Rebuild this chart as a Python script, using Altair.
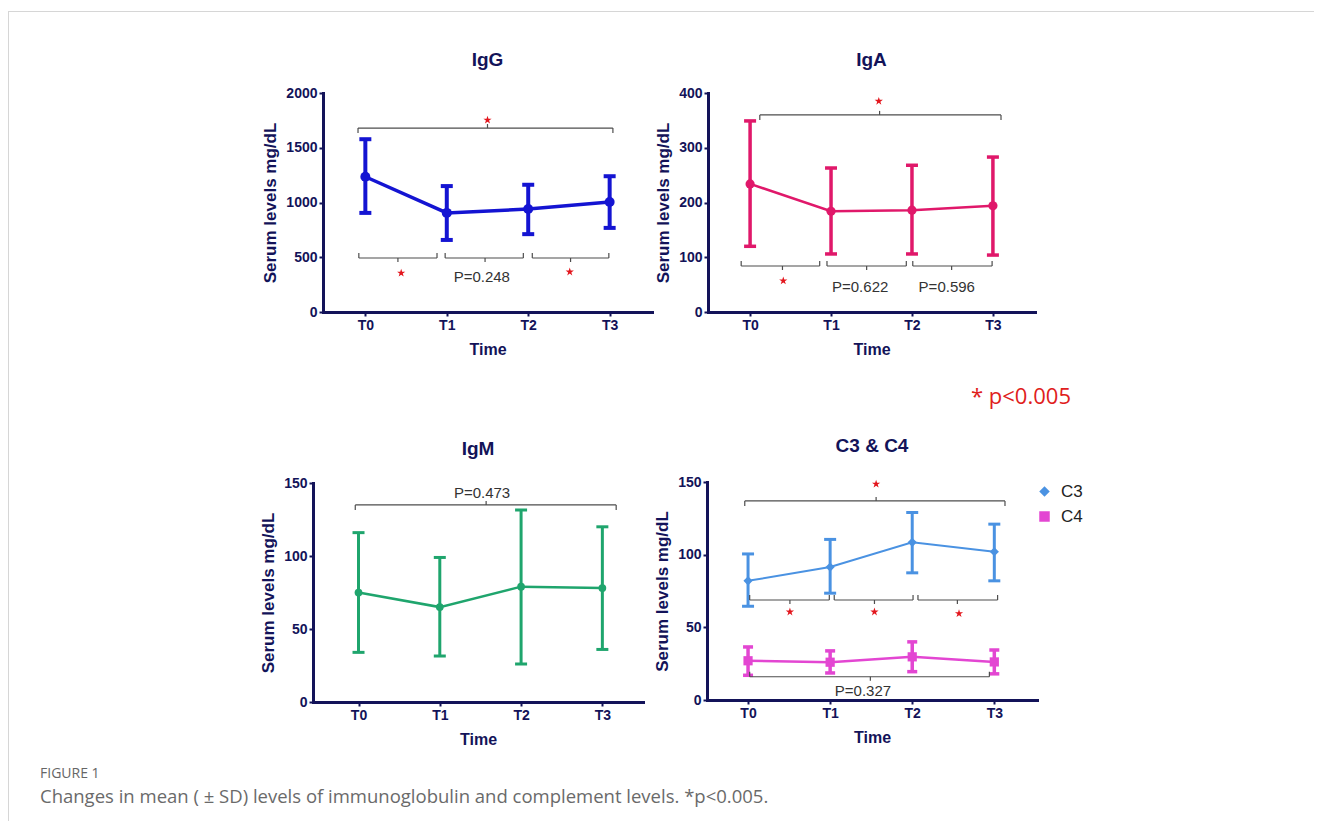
import altair as alt
import pandas as pd

# ---------------- data ----------------
time_idx = [0, 1, 2, 3]
time_labels = ["T0", "T1", "T2", "T3"]

igg_mean = [1235, 905, 940, 1004]
igg_upper = [1578, 1150, 1162, 1240]
igg_lower = [905, 658, 711, 768]

iga_mean = [234, 184, 186, 194]
iga_upper = [349, 263, 268, 283]
iga_lower = [120, 106, 106, 104]

igm_mean = [75, 65, 79, 78]
igm_upper = [116, 99, 131.5, 120]
igm_lower = [34, 31.5, 26, 36]

c3_mean = [82, 91.5, 108.5, 102]
c3_upper = [100.5, 110.5, 129, 121]
c3_lower = [64.5, 73.5, 87.5, 82]

c4_mean = [27, 26, 29.7, 26.2]
c4_upper = [36.5, 33.8, 40, 34.4]
c4_lower = [17, 18.6, 19.5, 18]

# significance brackets (x in time-index units, y in mg/dL)
igg_top = dict(x1=[-0.09], x2=[3.04], y=[1680], xm=[1.5])
igg_bot = dict(x1=[-0.08, 0.98, 2.05], x2=[0.88, 1.94, 2.99], y=[493, 493, 493], xm=[0.40, 1.47, 2.52])
igg_star = dict(x=[1.5, 0.44, 2.51], y=[1753, 356, 366])
igg_ptxt = dict(x=[1.43], y=[318], label=["P=0.248"])

iga_top = dict(x1=[0.12], x2=[3.10], y=[360], xm=[1.6])
iga_bot = dict(x1=[-0.11, 0.95, 2.01], x2=[0.86, 1.93, 2.99], y=[84, 84, 84], xm=[0.40, 1.44, 2.49])
iga_star = dict(x=[1.59, 0.41], y=[385, 57])
iga_ptxt = dict(x=[1.36, 2.43], y=[46, 46], label=["P=0.622", "P=0.596"])

igm_top = dict(x1=[-0.04], x2=[3.17], y=[135], xm=[1.57])
igm_ptxt = dict(x=[1.52], y=[143], label=["P=0.473"])

c34_top = dict(x1=[-0.04], x2=[3.13], y=[137], xm=[1.56])
c34_bot = dict(x1=[0.02, 1.05, 2.07, 0.02], x2=[0.99, 2.01, 3.04, 2.94], y=[68.8, 68.8, 68.8, 16], xm=[0.51, 1.54, 2.55, 1.49])
c34_star = dict(x=[1.56, 0.51, 1.54, 2.57], y=[148.6, 60.6, 60.6, 59.5])
c34_ptxt = dict(x=[1.40], y=[6.2], label=["P=0.327"])

panel_titles = {"IgG": "IgG", "IgA": "IgA", "IgM": "IgM", "C3C4": "C3 & C4"}
series_names = ["C3", "C4"]

# ---------------- layout / style ----------------
W, H = 1306, 813
NAVY = "#131359"
BRK = "#4d4d4d"
RED = "#e3161d"
FONT = "Liberation Sans"
STAR = ("M0,-1L0.2245,-0.309L0.951,-0.309L0.363,0.118L0.588,0.809L0,0.382"
        "L-0.588,0.809L-0.363,0.118L-0.951,-0.309L-0.2245,-0.309Z")

LAYOUT = {
    "IgG": dict(xr=[315, 644], xd=[-0.52, 3.52], yr=[304, 85], yd=[0, 2000],
                yt=[0, 500, 1000, 1500, 2000], title_y=52),
    "IgA": dict(xr=[700, 1027], xd=[-0.52, 3.52], yr=[304, 85], yd=[0, 400],
                yt=[0, 100, 200, 300, 400], title_y=52),
    "IgM": dict(xr=[305, 635], xd=[-0.56, 3.5], yr=[694, 475], yd=[0, 150],
                yt=[0, 50, 100, 150], title_y=441),
    "C3C4": dict(xr=[699, 1029], xd=[-0.5, 3.52], yr=[692, 474], yd=[0, 150],
                 yt=[0, 50, 100, 150], title_y=438),
}


def xs(p):
    L = LAYOUT[p]
    return alt.Scale(domain=L["xd"], range=L["xr"], nice=False, zero=False)


def ys(p):
    L = LAYOUT[p]
    return alt.Scale(domain=L["yd"], range=L["yr"], nice=False, zero=False)


def x_axis(p):
    L = LAYOUT[p]
    return alt.Axis(orient="bottom", offset=L["yr"][0] - H, values=time_idx,
                    labelExpr="'T' + datum.value", grid=False,
                    domainColor=NAVY, domainWidth=3, domainCap="square",
                    tickColor=NAVY, tickWidth=2, tickSize=4,
                    labelColor=NAVY, labelFont=FONT, labelFontSize=14,
                    labelFontWeight="bold", labelPadding=2, labelFlush=False,
                    labelOverlap=False, title="Time", titleFont=FONT,
                    titleFontSize=16, titleFontWeight="bold", titleColor=NAVY,
                    titlePadding=9)


def y_axis(p):
    L = LAYOUT[p]
    return alt.Axis(orient="left", offset=-L["xr"][0], values=L["yt"], grid=False,
                    format="d",
                    domainColor=NAVY, domainWidth=3, domainCap="square",
                    tickColor=NAVY, tickWidth=2, tickSize=4,
                    labelColor=NAVY, labelFont=FONT, labelFontSize=14,
                    labelFontWeight="bold", labelPadding=2, labelFlush=False,
                    labelOverlap=False, title="Serum levels mg/dL", titleFont=FONT,
                    titleFontSize=17, titleFontWeight="bold", titleColor=NAVY,
                    titlePadding=6)


def X(p, field, axis=None):
    return alt.X(f"{field}:Q", scale=xs(p), axis=axis)


def Y(p, field, axis=None):
    return alt.Y(f"{field}:Q", scale=ys(p), axis=axis)


def series_df(mean, lo, hi):
    return pd.DataFrame({"t": time_idx, "label": time_labels, "mean": mean, "lo": lo, "hi": hi})


def series_layers(p, df, color, shape, size, lw, bw, cap, axes=False, points=True):
    base = alt.Chart(df)
    out = [
        base.mark_rule(color=color, strokeWidth=bw).encode(x=X(p, "t"), y=Y(p, "lo"), y2="hi"),
        base.transform_fold(["lo", "hi"], as_=["k", "v"]).mark_tick(
            color=color, orient="horizontal", size=cap, thickness=bw, opacity=1
        ).encode(x=X(p, "t"), y=Y(p, "v")),
        base.mark_line(color=color, strokeWidth=lw).encode(
            x=X(p, "t", x_axis(p) if axes else None),
            y=Y(p, "mean", y_axis(p) if axes else None)),
    ]
    if points:
        out.append(base.mark_point(filled=True, color=color, shape=shape, size=size,
                                   opacity=1).encode(x=X(p, "t"), y=Y(p, "mean")))
    return out


def bracket_layers(p, br, up):
    df = pd.DataFrame(br)
    base = alt.Chart(df)
    hook = 5 if up else -5
    mid = -4 if up else 4
    return [
        base.mark_rule(color=BRK, strokeWidth=1.2).encode(x=X(p, "x1"), x2="x2", y=Y(p, "y")),
        base.transform_fold(["x1", "x2"], as_=["k", "xe"]).mark_rule(
            color=BRK, strokeWidth=1.2, y2Offset=hook
        ).encode(x=X(p, "xe"), y=Y(p, "y"), y2="y"),
        base.mark_rule(color=BRK, strokeWidth=1.2, y2Offset=mid).encode(
            x=X(p, "xm"), y=Y(p, "y"), y2="y"),
    ]


def star_layer(p, st):
    return alt.Chart(pd.DataFrame(st)).mark_point(
        shape=STAR, filled=True, color=RED, size=75, opacity=1
    ).encode(x=X(p, "x"), y=Y(p, "y"))


def ptxt_layer(p, pt):
    return alt.Chart(pd.DataFrame(pt)).mark_text(
        font=FONT, fontSize=15, color="#333333", baseline="middle", align="center"
    ).encode(x=X(p, "x"), y=Y(p, "y"), text="label:N")


def title_layer(p):
    L = LAYOUT[p]
    df = pd.DataFrame({"x": [sum(L["xd"]) / 2], "label": [panel_titles[p]]})
    return alt.Chart(df).mark_text(
        font=FONT, fontSize=19, fontWeight="bold", color=NAVY, baseline="middle", align="center"
    ).encode(x=X(p, "x"), y=alt.value(L["title_y"]), text="label:N")


layers = []

# IgG
layers += series_layers("IgG", series_df(igg_mean, igg_lower, igg_upper), "#1414d2", "circle", 100, 3.5, 4, 12, axes=True)
layers += bracket_layers("IgG", igg_top, True) + bracket_layers("IgG", igg_bot, False)
layers += [star_layer("IgG", igg_star), ptxt_layer("IgG", igg_ptxt), title_layer("IgG")]

# IgA
layers += series_layers("IgA", series_df(iga_mean, iga_lower, iga_upper), "#e0186a", "circle", 85, 2.5, 3.5, 12, axes=True)
layers += bracket_layers("IgA", iga_top, True) + bracket_layers("IgA", iga_bot, False)
layers += [star_layer("IgA", iga_star), ptxt_layer("IgA", iga_ptxt), title_layer("IgA")]

# IgM
layers += series_layers("IgM", series_df(igm_mean, igm_lower, igm_upper), "#1fa56d", "circle", 60, 2.5, 3, 12, axes=True)
layers += bracket_layers("IgM", igm_top, True)
layers += [ptxt_layer("IgM", igm_ptxt), title_layer("IgM")]

# C3 & C4
C3_COL, C4_COL = "#4a92e2", "#e346d2"
layers += series_layers("C3C4", series_df(c3_mean, c3_lower, c3_upper), C3_COL, "circle", 60, 2, 3, 12, axes=True, points=False)
layers += series_layers("C3C4", series_df(c4_mean, c4_lower, c4_upper), C4_COL, "square", 70, 2.5, 3.5, 10, points=False)
pts34 = pd.DataFrame({
    "t": time_idx * 2,
    "mean": c3_mean + c4_mean,
    "series": [series_names[0]] * 4 + [series_names[1]] * 4,
})
leg = alt.Legend(orient="none", legendX=1028, legendY=475, title=None,
                 labelFont=FONT, labelFontSize=17, labelColor="#222222",
                 symbolSize=110, rowPadding=7, labelOffset=8, symbolStrokeWidth=0)
layers.append(alt.Chart(pts34).mark_point(filled=True, size=85, opacity=1).encode(
    x=X("C3C4", "t"), y=Y("C3C4", "mean"),
    color=alt.Color("series:N", scale=alt.Scale(domain=series_names, range=[C3_COL, C4_COL]), legend=leg),
    shape=alt.Shape("series:N", scale=alt.Scale(domain=series_names, range=["diamond", "square"]), legend=leg),
))
layers += bracket_layers("C3C4", c34_top, True) + bracket_layers("C3C4", c34_bot, False)
layers += [star_layer("C3C4", c34_star), ptxt_layer("C3C4", c34_ptxt), title_layer("C3C4")]

# annotations: frame, note, caption
one = alt.Data(values=[{"a": 1}])
layers.append(alt.Chart(one).mark_rule(color="#d6d6d6", strokeWidth=1).encode(
    x=alt.value(0), x2=alt.value(W), y=alt.value(3.5)))
layers.append(alt.Chart(one).mark_rule(color="#d6d6d6", strokeWidth=1).encode(
    x=alt.value(0.5), y=alt.value(3), y2=alt.value(H)))
layers.append(alt.Chart(one).mark_text(
    text="*  p<0.005", font="Open Sans", fontSize=22, color="#e0201c", align="left", baseline="middle"
).encode(x=alt.value(963), y=alt.value(389)))
layers.append(alt.Chart(one).mark_text(
    text="FIGURE 1", font="Open Sans", fontSize=14, color="#666666", align="left", baseline="middle"
).encode(x=alt.value(32), y=alt.value(766)))
layers.append(alt.Chart(one).mark_text(
    text="Changes in mean ( \u00b1 SD) levels of immunoglobulin and complement levels. *p<0.005.",
    font="Open Sans", fontSize=18.5, color="#6a6a6a", align="left", baseline="middle"
).encode(x=alt.value(32), y=alt.value(789)))

chart = alt.layer(*layers).resolve_scale(
    x="independent", y="independent"
).properties(
    width=W, height=H, padding=0, background="white",
    autosize=alt.AutoSizeParams(type="none"),
).configure_view(stroke=None).configure_axis(grid=False)

chart.save("out.html", embed_options={"renderer": "svg", "actions": False})
